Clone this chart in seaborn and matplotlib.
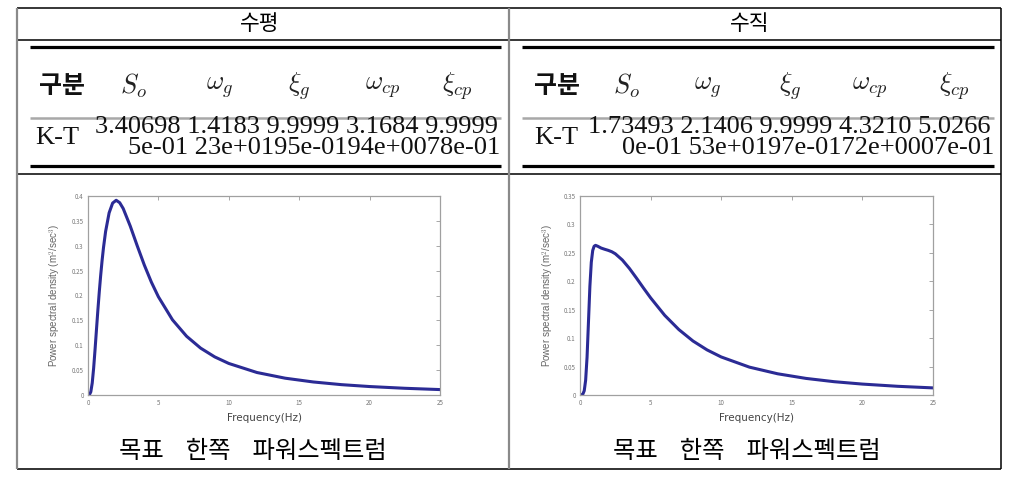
import numpy as np
import pandas as pd
import matplotlib
matplotlib.use("Agg")
import matplotlib.pyplot as plt
import seaborn as sns
from matplotlib.lines import Line2D

# ---------------- data ----------------
col_titles = ["수평", "수직"]
param_headers = ["$S_o$", r"$\omega_g$", r"$\xi_g$", r"$\omega_{cp}$", r"$\xi_{cp}$"]
row_label = "K-T"
h_values_line1 = ["3.40698", "1.4183", "9.9999", "3.1684", "9.9999"]
h_values_line2 = ["5e-01", "23e+01", "95e-01", "94e+00", "78e-01"]
v_values_line1 = ["1.73493", "2.1406", "9.9999", "4.3210", "5.0266"]
v_values_line2 = ["0e-01", "53e+01", "97e-01", "72e+00", "07e-01"]
caption_words = ["목표", "한쪽", "파워스펙트럼"]

freq = [0, 0.1, 0.2, 0.3, 0.4, 0.5, 0.6, 0.7, 0.8, 0.9, 1.0, 1.1, 1.25, 1.5,
        1.75, 2.0, 2.25, 2.5, 3.0, 3.5, 4.0, 4.5, 5, 6, 7, 8, 9, 10, 12, 14,
        16, 18, 20, 22.5, 25]
psd_horizontal = [0, 0.0005, 0.0064, 0.0241, 0.0538, 0.0910, 0.1309, 0.1702,
                  0.2069, 0.2403, 0.2701, 0.2962, 0.3286, 0.3661, 0.3858,
                  0.3914, 0.3866, 0.3748, 0.3396, 0.2996, 0.2612, 0.2269,
                  0.1974, 0.1511, 0.1181, 0.0942, 0.0766, 0.0634, 0.0452,
                  0.0338, 0.0262, 0.0208, 0.0170, 0.0135, 0.0109]
psd_vertical = [0, 0.0001, 0.0014, 0.0075, 0.0261, 0.0667, 0.1286, 0.1911,
                0.2334, 0.2541, 0.2616, 0.2632, 0.2617, 0.2584, 0.2563,
                0.2544, 0.2520, 0.2484, 0.2374, 0.2226, 0.2056, 0.1880,
                0.1709, 0.1401, 0.1151, 0.0950, 0.0793, 0.0669, 0.0490,
                0.0373, 0.0292, 0.0234, 0.0192, 0.0153, 0.0125]
h_yticks = [0, 0.05, 0.1, 0.15, 0.2, 0.25, 0.3, 0.35, 0.4]
v_yticks = [0, 0.05, 0.1, 0.15, 0.2, 0.25, 0.3, 0.35]
x_ticks = [0, 5, 10, 15, 20, 25]

# ---------------- style ----------------
sns.set_style("white")
plt.rcParams['font.family'] = ['Noto Sans CJK KR', 'DejaVu Sans']
plt.rcParams['mathtext.fontset'] = 'cm'

W, H = 1025, 480
fig = plt.figure(figsize=(W / 100, H / 100), dpi=100)
fig.patch.set_facecolor("white")

bg = fig.add_axes([0, 0, 1, 1])
bg.set_xlim(0, W)
bg.set_ylim(H, 0)
bg.axis("off")


def hline(y, x0, x1, color="black", lw=1.1):
    bg.add_line(Line2D([x0, x1], [y, y], color=color, lw=lw, solid_capstyle="butt"))


def vline(x, y0, y1, color="black", lw=1.1):
    bg.add_line(Line2D([x, x], [y0, y1], color=color, lw=lw, solid_capstyle="butt"))


# outer grid
hline(8, 17, 1001)
hline(40, 17, 1001)
hline(174, 17, 1001)
hline(469, 17, 1001, color="#222222", lw=1.3)
vline(17, 8, 469, color="#8a8a8a", lw=1.6)
vline(509, 8, 469, color="#8a8a8a", lw=1.6)
vline(1001, 8, 469)

serif = ["Liberation Serif", "DejaVu Serif"]

cols = [
    dict(center=260, x0=30, x1=501, gubun=62, kt=57,
         hx=[133, 220, 299, 383, 457], l1x=95, l2x=128,
         v1=h_values_line1, v2=h_values_line2, cap=253),
    dict(center=750, x0=522, x1=994, gubun=557, kt=556,
         hx=[626, 708, 790, 870, 954], l1x=588, l2x=622,
         v1=v_values_line1, v2=v_values_line2, cap=747),
]

for title, c in zip(col_titles, cols):
    bg.text(c["center"], 24, title, ha="center", va="center", fontsize=15.5, color="black")
    hline(47, c["x0"], c["x1"], lw=2.3)
    hline(118, c["x0"], c["x1"], color="#a8a8a8", lw=1.8)
    hline(165.5, c["x0"], c["x1"], lw=2.3)
    bg.text(c["gubun"], 86, "구분", ha="center", va="center", fontsize=18,
            fontweight="bold", color="#111111")
    for x, lab in zip(c["hx"], param_headers):
        bg.text(x, 86, lab, ha="center", va="center", fontsize=19, color="#222222")
    bg.text(c["kt"], 138, row_label, ha="center", va="center", fontsize=19,
            family=serif, color="#111111")
    line1 = " ".join(c["v1"])
    line2 = c["v2"][0] + " " + "".join(c["v2"][1:])
    bg.text(c["l1x"], 127, line1, ha="left", va="center", fontsize=19,
            family=serif, color="#111111")
    bg.text(c["l2x"], 148, line2, ha="left", va="center", fontsize=19,
            family=serif, color="#111111")
    bg.text(c["cap"], 451, "    ".join(caption_words), ha="center", va="center",
            fontsize=17.5, color="black")

# ---------------- plots ----------------
df = pd.DataFrame({"freq": freq, "horizontal": psd_horizontal, "vertical": psd_vertical})

plot_specs = [
    dict(rect=[88 / W, 1 - 395 / H, 352 / W, 199 / H], col="horizontal",
         ylim=(0, 0.4), yticks=h_yticks),
    dict(rect=[580 / W, 1 - 395 / H, 353 / W, 199 / H], col="vertical",
         ylim=(0, 0.35), yticks=v_yticks),
]

for spec in plot_specs:
    ax = fig.add_axes(spec["rect"])
    sns.lineplot(data=df, x="freq", y=spec["col"], ax=ax, color="#2b2b95", lw=2.2)
    ax.set_xlim(0, 25)
    ax.set_ylim(*spec["ylim"])
    ax.set_xticks(x_ticks)
    ax.set_yticks(spec["yticks"])
    ax.set_xticklabels([str(t) for t in x_ticks])
    ax.set_yticklabels([("%g" % t) for t in spec["yticks"]])
    ax.tick_params(direction="in", length=3, width=0.6, colors="#999999",
                   labelsize=4.5, labelcolor="#777777", top=True, right=True,
                   pad=3)
    for sp in ax.spines.values():
        sp.set_color("#a0a0a0")
        sp.set_linewidth(0.9)
    ax.set_xlabel("Frequency(Hz)", fontsize=7.5, color="#444444", labelpad=4,
                  family=["DejaVu Sans"])
    ax.set_ylabel(r"Power spectral density (m$^2$/sec$^3$)", fontsize=7,
                  color="#666666", family=["Liberation Sans", "DejaVu Sans"],
                  labelpad=6)
    ax.set_facecolor("white")

fig.savefig("out.png", dpi=100)
